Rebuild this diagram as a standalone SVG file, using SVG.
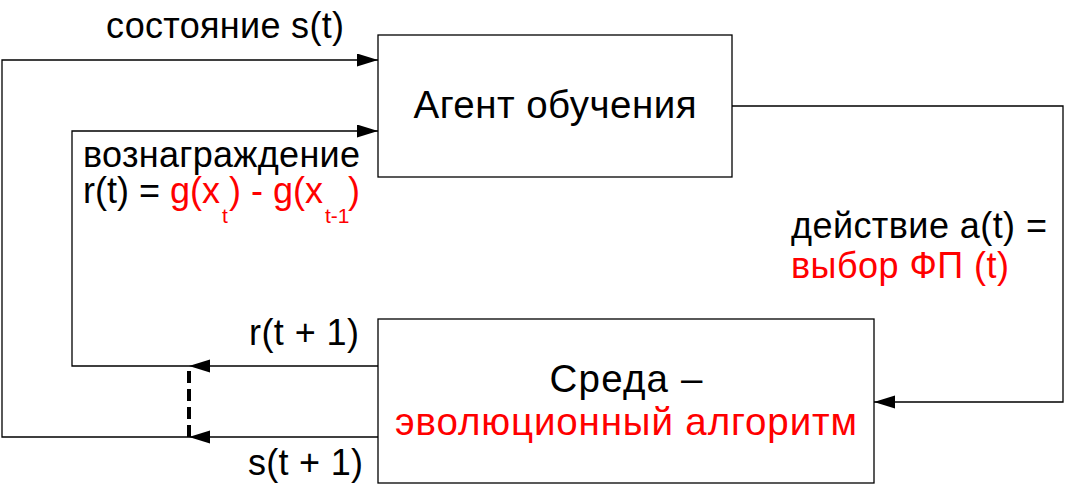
<svg xmlns="http://www.w3.org/2000/svg" width="1088" height="497" viewBox="0 0 1088 497">
<style>
  text { font-family: "Liberation Sans", Arial, sans-serif; font-size: 36px; fill: #000; }
  .big { font-size: 38.5px; }
  .red { fill: #ff0000; }
  .sub { font-size: 21px; }
  .box { fill: #fff; stroke: #000; stroke-width: 1.3; }
  .wire { fill: none; stroke: #000; stroke-width: 1.3; }
  .dash { fill: none; stroke: #000; stroke-width: 4; stroke-dasharray: 12 6; }
</style>
<defs>
  <marker id="arrow" markerUnits="userSpaceOnUse" markerWidth="22" markerHeight="14" refX="21" refY="6.5" orient="auto">
    <path d="M0,0 L21,6.5 L0,13 z" fill="#000"/>
  </marker>
</defs>
<rect width="1088" height="497" fill="#fff"/>

<g id="connectors">
  <path class="wire" d="M378,437 H189" marker-end="url(#arrow)"/>
  <path class="wire" d="M189,437 H2 V60 H378" marker-end="url(#arrow)"/>
  <path class="wire" d="M378,366 H189" marker-end="url(#arrow)"/>
  <path class="wire" d="M189,366 H72 V131 H378" marker-end="url(#arrow)"/>
  <path class="wire" d="M732,106 H1063 V402 H874" marker-end="url(#arrow)"/>
  <path class="dash" d="M189,437 V368"/>
  <text x="106" y="38" textLength="238" lengthAdjust="spacing">состояние s(t)</text>
  <text x="83" y="167" textLength="277" lengthAdjust="spacing">вознаграждение</text>
  <text x="83" y="203">r(t) = <tspan class="red">g(x</tspan><tspan class="red sub" x="222" y="223">t</tspan><tspan class="red" x="229" y="203">) - g(x</tspan><tspan class="red sub" x="325" y="223">t-1</tspan><tspan class="red" x="348" y="203">)</tspan></text>
  <text x="791" y="238" textLength="256" lengthAdjust="spacing">действие a(t) =</text>
  <text class="red" x="791" y="278" textLength="218" lengthAdjust="spacing">выбор ФП (t)</text>
  <text x="249" y="345" textLength="110" lengthAdjust="spacing">r(t + 1)</text>
  <text x="248" y="475" textLength="115" lengthAdjust="spacing">s(t + 1)</text>
</g>

<g id="node-agent">
  <rect class="box" x="378" y="35" width="354" height="142"/>
  <text class="big" x="555" y="118" text-anchor="middle" textLength="283" lengthAdjust="spacing">Агент обучения</text>
</g>

<g id="node-env">
  <rect class="box" x="378" y="319" width="496" height="164"/>
  <text class="big" x="626" y="392" text-anchor="middle" textLength="153" lengthAdjust="spacing">Среда –</text>
  <text class="big red" x="626" y="435" text-anchor="middle" textLength="462" lengthAdjust="spacing">эволюционный алгоритм</text>
</g>
</svg>
